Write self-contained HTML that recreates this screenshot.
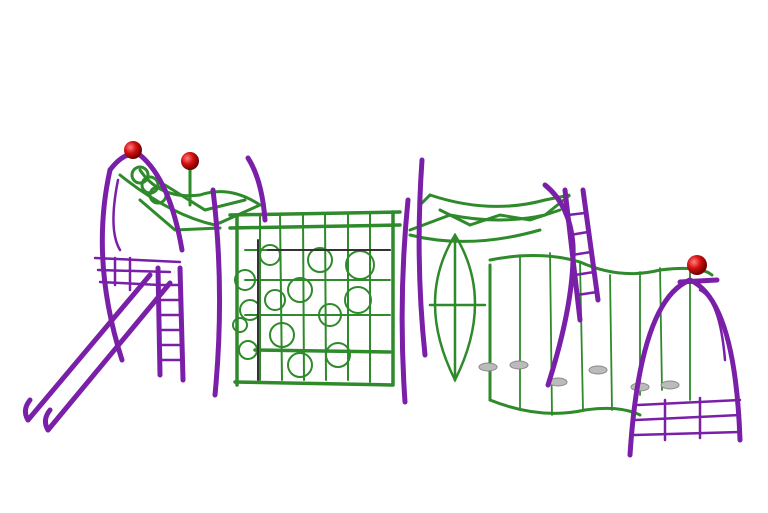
<!DOCTYPE html>
<html><head><meta charset="utf-8"><style>html,body{margin:0;padding:0;background:#fff;width:768px;height:513px;overflow:hidden}</style></head>
<body>
<svg width="768" height="513" viewBox="0 0 768 513" xmlns="http://www.w3.org/2000/svg">
<defs>
<radialGradient id="rb" cx="35%" cy="35%" r="65%"><stop offset="0" stop-color="#ff8080"/><stop offset="0.5" stop-color="#d41010"/><stop offset="1" stop-color="#700000"/></radialGradient>
</defs>
<g fill="none" stroke-linecap="round">
<!-- green canopies -->
<g stroke="#2e8a2a" stroke-width="3">
<path d="M120 175 Q170 215 215 225 L260 205 Q230 185 200 195 Q160 200 140 170"/>
<path d="M140 200 L175 230 L220 228"/>
<path d="M165 185 L205 210 L245 200"/>
<path d="M410 230 L450 215 Q500 225 545 215 L570 195 L545 200 Q490 215 430 195 L420 205"/>
<path d="M440 210 L470 225 L500 215 L530 220 L560 210"/>
<path d="M410 235 Q470 250 540 230"/>
<circle cx="140" cy="175" r="8"/><circle cx="150" cy="185" r="8"/><circle cx="158" cy="195" r="8"/>
<path d="M190 165 L190 205"/>
</g>
<!-- net frame -->
<g stroke="#2e8a2a" stroke-width="3.5">
<path d="M230 215 L400 212"/>
<path d="M230 228 L400 225"/>
<path d="M237 215 L237 385"/>
<path d="M393 212 L393 385"/>
<path d="M235 382 L392 385"/>
<path d="M255 350 L390 352"/>
</g>
<g stroke="#2e8a2a" stroke-width="2">
<path d="M260 215 L260 380 M280 215 L282 380 M303 215 L304 380 M325 215 L326 380 M348 215 L348 380 M370 214 L370 382"/>
<path d="M245 250 L390 250 M245 280 L390 280 M245 315 L390 315"/>
<circle cx="245" cy="280" r="10"/><circle cx="250" cy="310" r="10"/><circle cx="248" cy="350" r="9"/>
<circle cx="275" cy="300" r="10"/><circle cx="282" cy="335" r="12"/><circle cx="300" cy="290" r="12"/>
<circle cx="300" cy="365" r="12"/><circle cx="320" cy="260" r="12"/><circle cx="330" cy="315" r="11"/>
<circle cx="338" cy="355" r="12"/><circle cx="360" cy="265" r="14"/><circle cx="358" cy="300" r="13"/>
<circle cx="270" cy="255" r="10"/><circle cx="240" cy="325" r="7"/>
</g>
<g stroke="#333" stroke-width="2"><path d="M258 240 L258 380 M268 250 L390 250"/></g>
<!-- spindle -->
<g stroke="#2e8a2a" stroke-width="2.5">
<path d="M455 235 Q415 300 455 380 Q495 300 455 235 Z"/>
<path d="M455 235 L455 380 M430 305 L485 305"/>
</g>
<!-- bridge -->
<g stroke="#2e8a2a" stroke-width="3">
<path d="M490 260 Q540 250 580 262 Q620 280 660 270 Q700 265 712 275"/>
<path d="M490 265 L490 400"/>
<path d="M490 400 Q540 420 585 410 Q620 405 640 415"/>
</g>
<g stroke="#2e8a2a" stroke-width="1.8">
<path d="M520 255 L520 410 M550 253 L552 415 M580 262 L583 410 M610 275 L612 410 M640 272 L640 395 M660 268 L662 390 M690 268 L690 400"/>
</g>
<g fill="#bbb" stroke="#888" stroke-width="1">
<ellipse cx="488" cy="367" rx="9" ry="4"/><ellipse cx="519" cy="365" rx="9" ry="4"/><ellipse cx="558" cy="382" rx="9" ry="4"/>
<ellipse cx="598" cy="370" rx="9" ry="4"/><ellipse cx="640" cy="387" rx="9" ry="4"/><ellipse cx="670" cy="385" rx="9" ry="4"/>
</g>
<!-- purple parts -->
<g stroke="#7a1fa8" stroke-width="5">
<path d="M28 420 L150 275 M48 430 L170 283"/>
<path d="M28 420 Q22 410 30 400 M48 430 Q42 420 50 410"/>
<path d="M158 268 L160 375 M180 268 L183 380"/>
<path d="M110 170 Q90 260 122 360"/>
<path d="M110 170 Q125 150 140 155 Q170 180 182 250"/>
<path d="M213 190 Q225 290 215 395"/>
<path d="M248 158 Q262 180 265 220"/>
<path d="M422 160 Q415 260 425 355"/>
<path d="M408 200 Q398 300 405 402"/>
<path d="M545 185 Q570 205 573 245 Q575 300 548 385"/>
<path d="M565 190 L580 320 M583 190 L598 300"/>
<path d="M630 455 Q640 300 690 280 Q735 300 740 440"/>
<path d="M680 282 L717 280"/>
</g>
<g stroke="#7a1fa8" stroke-width="2.5">
<path d="M158 285 L180 285 M158 300 L181 300 M159 315 L181 315 M159 330 L182 330 M159 345 L182 345 M160 360 L183 360"/>
<path d="M95 258 L180 262 M98 270 L170 272 M100 282 L160 285"/>
<path d="M130 258 L130 290 M115 258 L115 285"/>
<path d="M568 215 L585 213 M570 235 L588 232 M572 255 L591 252 M575 275 L594 272 M577 295 L597 292"/>
<path d="M638 405 L740 400 M636 420 L740 415 M634 435 L740 432"/>
<path d="M665 400 L665 440 M700 398 L700 438"/>
<path d="M700 290 Q720 300 725 360"/>
<path d="M118 180 Q108 230 120 250"/>
</g>
<!-- balls -->
<g stroke="none">
<circle cx="133" cy="150" r="9" fill="url(#rb)"/>
<circle cx="190" cy="161" r="9" fill="url(#rb)"/>
<circle cx="697" cy="265" r="10" fill="url(#rb)"/>
</g>
</g>
</svg>
</body></html>
